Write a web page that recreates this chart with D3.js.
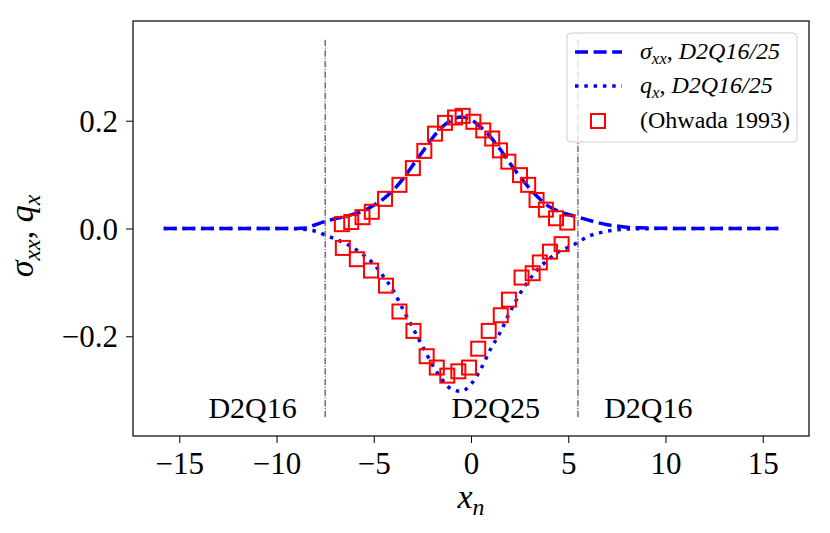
<!DOCTYPE html>
<html>
<head>
<meta charset="utf-8">
<script src="https://cdn.jsdelivr.net/npm/d3@7"></script>
<style>
  body { margin: 0; background: #fff; }
  svg text { font-family: "Liberation Serif", "DejaVu Serif", serif; fill: #000; }
</style>
</head>
<body>
<svg id="shock" width="830" height="533"></svg>
<script>
// solver curves (D2Q16/25)
const curveX = [-15.8, -12, -10, -9, -8.5, -8, -7.5, -7, -6.5, -6, -5.5, -5, -4.5, -4, -3.5, -3, -2.5, -2, -1.5, -1, -0.5,
  0, 0.5, 1, 1.5, 2, 2.5, 3, 3.5, 4, 4.5, 5, 5.5, 6, 6.5, 7, 7.5, 8, 9, 10, 12, 15.8];
const sigmaXX = [0, 0, 0, 0.0002, 0.001, 0.007, 0.013, 0.018, 0.022, 0.027, 0.033, 0.043, 0.055, 0.071, 0.092, 0.117, 0.142, 0.167, 0.188, 0.201, 0.207,
  0.202, 0.188, 0.170, 0.147, 0.121, 0.097, 0.075, 0.056, 0.041, 0.032, 0.026, 0.021, 0.016, 0.011, 0.007, 0.0045, 0.0025, 0.001, 0.0003, 0, 0];
const heatFluxQ = [0, 0, 0, -0.0005, -0.002, -0.005, -0.012, -0.019, -0.027, -0.037, -0.050, -0.066, -0.089, -0.115, -0.150, -0.184, -0.218, -0.252, -0.280, -0.298, -0.302,
  -0.289, -0.261, -0.224, -0.193, -0.155, -0.122, -0.095, -0.073, -0.057, -0.043, -0.035, -0.026, -0.015, -0.009, -0.005, -0.0025, -0.001, -0.0003, 0, 0, 0];

// Ohwada 1993 reference points
const ohwadaSigmaX = [-6.64, -6.16, -5.58, -5.10, -4.42, -3.68, -2.99, -2.40, -1.85, -1.34, -0.82, -0.43, 0.12, 0.63, 1.09, 1.49, 1.92, 2.52, 2.94, 3.37, 3.85, 4.37, 4.95];
const ohwadaSigmaY = [0.008, 0.012, 0.021, 0.031, 0.055, 0.081, 0.112, 0.144, 0.176, 0.196, 0.206, 0.209, 0.198, 0.182, 0.167, 0.145, 0.124, 0.099, 0.081, 0.053, 0.035, 0.019, 0.011];
const ohwadaQX = [-6.59, -5.87, -5.14, -4.37, -3.68, -2.96, -2.28, -1.76, -1.22, -0.65, -0.10, 0.37, 0.91, 1.53, 1.95, 2.60, 3.17, 3.54, 4.06, 4.66];
const ohwadaQY = [-0.036, -0.057, -0.078, -0.106, -0.154, -0.190, -0.237, -0.258, -0.273, -0.265, -0.258, -0.223, -0.190, -0.161, -0.132, -0.091, -0.083, -0.063, -0.043, -0.029];

// lattice switching boundaries and region labels
const boundaryX = [-7.5, 5.5];
const boundaryY = [-0.35, 0.35];
const regionNames = ["D2Q16", "D2Q25", "D2Q16"];
const regionNameX = [-13.5, -1, 6.85];
const regionNameY = -0.351;

const xTicks = [-15, -10, -5, 0, 5, 10, 15];
const yTicks = [-0.2, 0, 0.2];

document.addEventListener('DOMContentLoaded', _ => {
  const svg = d3.select("svg#shock");
  const width = +svg.attr("width");
  const height = +svg.attr("height");
  const margins = { top: 21, right: 21, bottom: 97, left: 133 };
  const chartWidth = width - margins.left - margins.right;
  const chartHeight = height - margins.top - margins.bottom;

  const xScale = d3.scaleLinear().domain([-17.38, 17.38]).range([0, chartWidth]);
  const yScale = d3.scaleLinear().domain([-0.385, 0.385]).range([chartHeight, 0]);

  const chart = svg.append("g")
    .attr("transform", `translate(${margins.left},${margins.top})`);

  // writes math-like text: parts = [{t, it, sub}]
  function mathText(sel, parts, size) {
    let shift = 0;
    parts.forEach(p => {
      const want = p.sub ? size * 0.2 : 0;
      sel.append("tspan")
        .text(p.t)
        .attr("font-style", p.it ? "italic" : "normal")
        .attr("font-size", p.sub ? size * 0.7 : size)
        .attr("dy", want - shift);
      shift = want;
    });
  }

  // axes
  const bottomAxis = d3.axisBottom(xScale)
    .tickValues(xTicks)
    .tickSize(7).tickSizeOuter(0).tickPadding(8.5)
    .tickFormat(d => d < 0 ? "\u2212" + Math.abs(d) : d);
  const leftAxis = d3.axisLeft(yScale)
    .tickValues(yTicks)
    .tickSize(7).tickSizeOuter(0).tickPadding(8)
    .tickFormat(d => (d < 0 ? "\u2212" : "") + Math.abs(d).toFixed(1));

  const gx = chart.append("g").attr("class", "x axis")
    .attr("transform", `translate(0,${chartHeight})`)
    .call(bottomAxis);
  const gy = chart.append("g").attr("class", "y axis").call(leftAxis);
  [gx, gy].forEach(g => {
    g.select(".domain").remove();
    g.selectAll("line").attr("stroke", "#000").attr("stroke-width", 1);
    g.selectAll("text").attr("font-size", 31).attr("font-family", "Liberation Serif");
  });
  gy.selectAll("text").attr("dy", "0.34em");

  // lattice boundaries
  boundaryX.forEach(bx => {
    chart.append("line")
      .attr("x1", xScale(bx)).attr("x2", xScale(bx))
      .attr("y1", yScale(boundaryY[0])).attr("y2", yScale(boundaryY[1]))
      .attr("stroke", "#111")
      .attr("stroke-width", 0.9)
      .attr("stroke-dasharray", "6.4,1.6,1,1.6");
  });

  regionNames.forEach((name, i) => {
    chart.append("text")
      .text(name)
      .attr("x", xScale(regionNameX[i]))
      .attr("y", yScale(regionNameY))
      .attr("font-size", 30);
  });

  // curves
  const line = d3.line().curve(d3.curveMonotoneX)
    .x(d => xScale(d[0])).y(d => yScale(d[1]));

  chart.append("path")
    .datum(d3.zip(curveX, sigmaXX))
    .attr("d", line)
    .attr("fill", "none")
    .attr("stroke", "#0000ff")
    .attr("stroke-width", 3.5)
    .attr("stroke-dasharray", "13,5.6");

  chart.append("path")
    .datum(d3.zip(curveX, heatFluxQ))
    .attr("d", line)
    .attr("fill", "none")
    .attr("stroke", "#0000ff")
    .attr("stroke-width", 3.5)
    .attr("stroke-dasharray", "3.5,5.8");

  // Ohwada squares
  const sq = 14;
  const points = d3.zip(ohwadaSigmaX, ohwadaSigmaY).concat(d3.zip(ohwadaQX, ohwadaQY));
  chart.selectAll("rect.ohwada")
    .data(points)
    .join("rect")
    .attr("class", "ohwada")
    .attr("x", d => xScale(d[0]) - sq / 2)
    .attr("y", d => yScale(d[1]) - sq / 2)
    .attr("width", sq).attr("height", sq)
    .attr("fill", "none")
    .attr("stroke", "#ff0000")
    .attr("stroke-width", 2);

  // frame
  chart.append("rect")
    .attr("width", chartWidth).attr("height", chartHeight)
    .attr("fill", "none").attr("stroke", "#000").attr("stroke-width", 1.2);

  // axis labels
  const xl = svg.append("text")
    .attr("x", margins.left + xScale(0))
    .attr("y", 508)
    .attr("text-anchor", "middle");
  mathText(xl, [{ t: "x", it: true }, { t: "n", it: true, sub: true }], 34);

  const yl = svg.append("text")
    .attr("transform", "translate(33,236) rotate(-90)")
    .attr("text-anchor", "middle");
  mathText(yl, [{ t: "\u03C3", it: true }, { t: "xx", it: true, sub: true }, { t: ", " }, { t: "q", it: true }, { t: "x", it: true, sub: true }], 34);

  // legend
  const legend = svg.append("g");
  legend.append("rect")
    .attr("x", 567).attr("y", 33)
    .attr("width", 230).attr("height", 109)
    .attr("rx", 4)
    .attr("fill", "#fff").attr("fill-opacity", 0.8)
    .attr("stroke", "#cccccc").attr("stroke-width", 1);

  const rows = [52, 86, 121];
  legend.append("line")
    .attr("x1", 575).attr("x2", 622).attr("y1", rows[0]).attr("y2", rows[0])
    .attr("stroke", "#0000ff").attr("stroke-width", 3.5).attr("stroke-dasharray", "13,5.6");
  legend.append("line")
    .attr("x1", 575).attr("x2", 622).attr("y1", rows[1]).attr("y2", rows[1])
    .attr("stroke", "#0000ff").attr("stroke-width", 3.5).attr("stroke-dasharray", "3.5,5.8");
  legend.append("rect")
    .attr("x", 598 - sq / 2).attr("y", rows[2] - sq / 2)
    .attr("width", sq).attr("height", sq)
    .attr("fill", "none").attr("stroke", "#ff0000").attr("stroke-width", 2);

  const lt1 = legend.append("text").attr("x", 640).attr("y", rows[0] + 7);
  mathText(lt1, [{ t: "\u03C3", it: true }, { t: "xx", it: true, sub: true }, { t: ", " }, { t: "D2Q16/25", it: true }], 24);
  const lt2 = legend.append("text").attr("x", 640).attr("y", rows[1] + 7);
  mathText(lt2, [{ t: "q", it: true }, { t: "x", it: true, sub: true }, { t: ", " }, { t: "D2Q16/25", it: true }], 24);
  legend.append("text").attr("x", 640).attr("y", rows[2] + 7)
    .attr("font-size", 24)
    .text("(Ohwada 1993)");
});
</script>
</body>
</html>
